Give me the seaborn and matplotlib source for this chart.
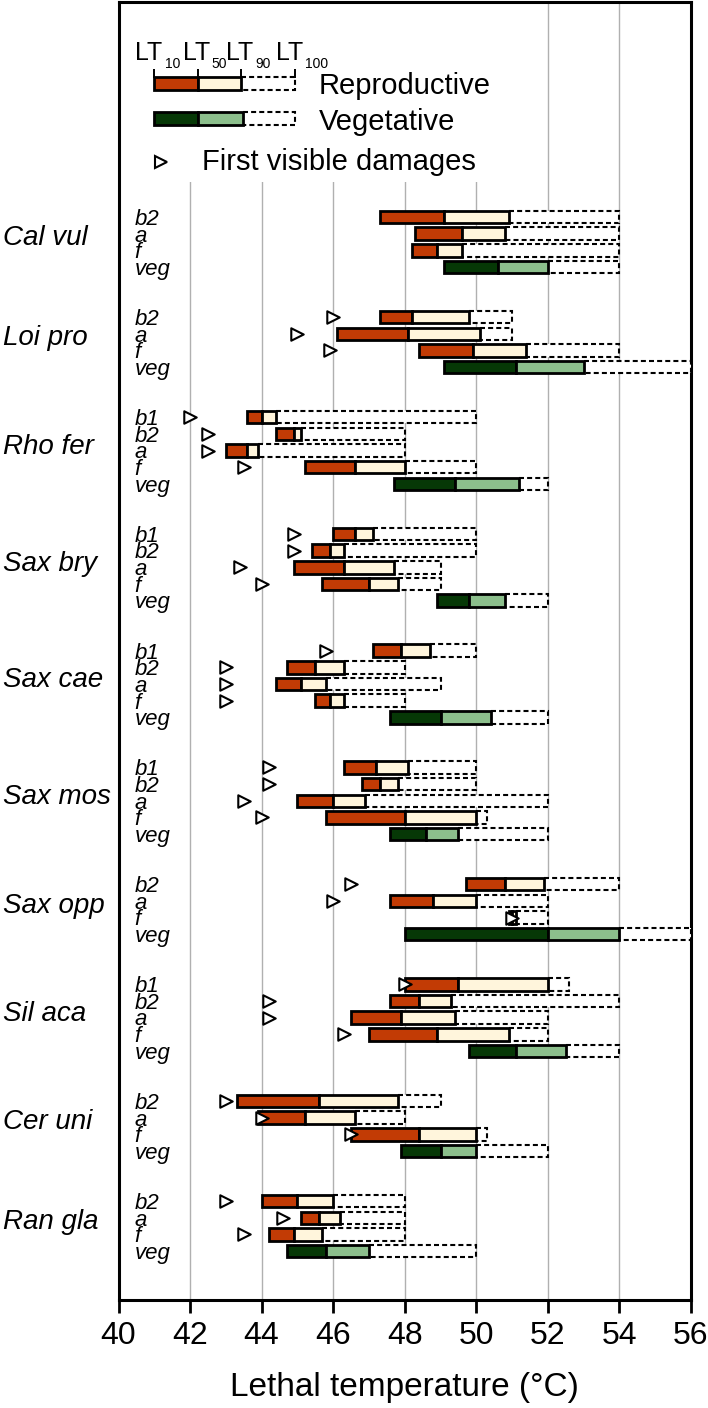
import numpy as np
import pandas as pd
import matplotlib
matplotlib.use('Agg')
import matplotlib.pyplot as plt
import matplotlib.transforms as mtransforms
from matplotlib.patches import Rectangle
import seaborn as sns

nan = np.nan

# species groups and the sample type of each row (top to bottom)
species = ['Cal vul', 'Loi pro', 'Rho fer', 'Sax bry', 'Sax cae',
           'Sax mos', 'Sax opp', 'Sil aca', 'Cer uni', 'Ran gla']
organs = [
    ['b2', 'a', 'f', 'veg'],
    ['b2', 'a', 'f', 'veg'],
    ['b1', 'b2', 'a', 'f', 'veg'],
    ['b1', 'b2', 'a', 'f', 'veg'],
    ['b1', 'b2', 'a', 'f', 'veg'],
    ['b1', 'b2', 'a', 'f', 'veg'],
    ['b2', 'a', 'f', 'veg'],
    ['b1', 'b2', 'a', 'f', 'veg'],
    ['b2', 'a', 'f', 'veg'],
    ['b2', 'a', 'f', 'veg'],
]

# lethal temperatures (deg C), one value per row
lt10 = [47.3, 48.3, 48.2, 49.1,
        47.3, 46.1, 48.4, 49.1,
        43.6, 44.4, 43.0, 45.2, 47.7,
        46.0, 45.4, 44.9, 45.7, 48.9,
        47.1, 44.7, 44.4, 45.5, 47.6,
        46.3, 46.8, 45.0, 45.8, 47.6,
        49.7, 47.6, 50.9, 48.0,
        48.0, 47.6, 46.5, 47.0, 49.8,
        43.3, 43.9, 46.5, 47.9,
        44.0, 45.1, 44.2, 44.7]
lt50 = [49.1, 49.6, 48.9, 50.6,
        48.2, 48.1, 49.9, 51.1,
        44.0, 44.9, 43.6, 46.6, 49.4,
        46.6, 45.9, 46.3, 47.0, 49.8,
        47.9, 45.5, 45.1, 45.9, 49.0,
        47.2, 47.3, 46.0, 48.0, 48.6,
        50.8, 48.8, 51.0, 52.0,
        49.5, 48.4, 47.9, 48.9, 51.1,
        45.6, 45.2, 48.4, 49.0,
        45.0, 45.6, 44.9, 45.8]
lt90 = [50.9, 50.8, 49.6, 52.0,
        49.8, 50.1, 51.4, 53.0,
        44.4, 45.1, 43.9, 48.0, 51.2,
        47.1, 46.3, 47.7, 47.8, 50.8,
        48.7, 46.3, 45.8, 46.3, 50.4,
        48.1, 47.8, 46.9, 50.0, 49.5,
        51.9, 50.0, 51.1, 54.0,
        52.0, 49.3, 49.4, 50.9, 52.5,
        47.8, 46.6, 50.0, 50.0,
        46.0, 46.2, 45.7, 47.0]
lt100 = [54, 54, 54, 54,
         51, 51, 54, 56,
         50, 48, 48, 50, 52,
         50, 50, 49, 49, 52,
         50, 48, 49, 48, 52,
         50, 50, 52, 50.3, 52,
         54, 52, 52, 56,
         52.6, 54, 52, 52, 54,
         49, 48, 50.3, 52,
         48, 48, 48, 50]
first_damage = [nan, nan, nan, nan,
                46.0, 45.0, 45.9, nan,
                42.0, 42.5, 42.5, 43.5, nan,
                44.9, 44.9, 43.4, 44.0, nan,
                45.8, 43.0, 43.0, 43.0, nan,
                44.2, 44.2, 43.5, 44.0, nan,
                46.5, 46.0, 51.0, nan,
                48.0, 44.2, 44.2, 46.3, nan,
                43.0, 44.0, 46.5, nan,
                43.0, 44.6, 43.5, nan]

# legend sample bar
legend_rep = [41.0, 42.22, 43.42, 44.94]
legend_veg = [41.0, 42.22, 43.47, 44.94]
legend_lt = ['10', '50', '90', '100']
legend_lt_x = [40.47, 41.79, 43.01, 44.39]
xticks = [40, 42, 44, 46, 48, 50, 52, 54, 56]

RED = '#c23b05'
CREAM = '#fff5dc'
DKGREEN = '#063806'
LTGREEN = '#8cbf8c'

sns.set_style('white')
plt.rcParams['font.family'] = ['Liberation Sans', 'DejaVu Sans']
plt.rcParams['text.color'] = 'black'
plt.rcParams['axes.labelcolor'] = 'black'
plt.rcParams['xtick.color'] = 'black'

# row positions: groups separated by two empty rows
rows, group_mid, labels, is_veg = [], [], [], []
r = 13
for sp, org in zip(species, organs):
    ys = list(range(r, r + len(org)))
    rows += ys
    labels += org
    is_veg += [o == 'veg' for o in org]
    group_mid.append((ys[0] + ys[-1]) / 2)
    r += len(org) + 2

df = pd.DataFrame({'row': rows, 'organ': labels, 'veg': is_veg,
                   'lt10': lt10, 'lt50': lt50, 'lt90': lt90, 'lt100': lt100,
                   'damage': first_damage})

fig = plt.figure(figsize=(7.08, 14.08), dpi=100)
ax = fig.add_axes([118.5 / 708, 1 - 1300 / 1408, 572.5 / 708, 1298 / 1408])
ax.set_xlim(40, 56)
ax.set_ylim(77.93, 0.11)

ax.set_axisbelow(True)
ax.xaxis.grid(True, color='#b0b0b0', lw=1)
ax.yaxis.grid(False)

h = 0.75
dash = (0, (2.4, 1.5))

def draw_bar(y, v, fc1, fc2, z=3):
    ax.barh(y, v[3] - v[2], left=v[2], height=h, facecolor='white',
            edgecolor='black', linestyle=dash, linewidth=1.5, zorder=z)
    ax.barh(y, v[1] - v[0], left=v[0], height=h, facecolor=fc1,
            edgecolor='black', linewidth=2, zorder=z + 1)
    ax.barh(y, v[2] - v[1], left=v[1], height=h, facecolor=fc2,
            edgecolor='black', linewidth=2, zorder=z + 1)

for _, d in df.iterrows():
    c1, c2 = (DKGREEN, LTGREEN) if d['veg'] else (RED, CREAM)
    draw_bar(d['row'], [d['lt10'], d['lt50'], d['lt90'], d['lt100']], c1, c2)
    ax.text(40.45, d['row'] + 0.47, d['organ'], fontsize=16, style='italic',
            ha='left', va='baseline', zorder=6)

sns.scatterplot(data=df.dropna(subset=['damage']), x='damage', y='row',
                marker='>', s=80, color='white', edgecolor='black',
                linewidth=1.5, zorder=7, legend=False, ax=ax)

# species names left of the axes
tr = mtransforms.blended_transform_factory(fig.transFigure, ax.transData)
for sp, ym in zip(species, group_mid):
    ax.text(0.004, ym + 0.2, sp, transform=tr, fontsize=20, style='italic',
            ha='left', va='baseline', clip_on=False)

# legend block
ax.add_patch(Rectangle((40, 0), 11, 10.9, facecolor='white', edgecolor='none', zorder=1))
draw_bar(5.0, legend_rep, RED, CREAM)
draw_bar(7.1, legend_veg, DKGREEN, LTGREEN)
ax.vlines(legend_rep, 4.15, 4.65, color='black', lw=1.4, zorder=5)
for x, s in zip(legend_lt_x, legend_lt):
    ax.text(x, 3.6, 'LT', fontsize=18, ha='left', va='baseline')
    ax.text(x + 0.82, 4.07, s, fontsize=10, ha='left', va='baseline')
ax.text(45.59, 5.62, 'Reproductive', fontsize=21, ha='left', va='baseline')
ax.text(45.59, 7.8, 'Vegetative', fontsize=21, ha='left', va='baseline')
ax.plot([41.2], [9.7], marker='>', ms=9, mfc='white', mec='black', mew=1.5,
        ls='none', zorder=7)
ax.text(42.33, 10.2, 'First visible damages', fontsize=21, ha='left', va='baseline')

ax.set_xticks(xticks)
ax.set_yticks([])
ax.tick_params(axis='x', bottom=True, direction='out', length=9, width=2,
               labelsize=23, pad=6)
for s in ax.spines.values():
    s.set_color('black')
    s.set_linewidth(2.2)
ax.set_xlabel('Lethal temperature (°C)', fontsize=24, labelpad=15)
ax.set_ylabel('')

fig.savefig('out.png', dpi=100)
